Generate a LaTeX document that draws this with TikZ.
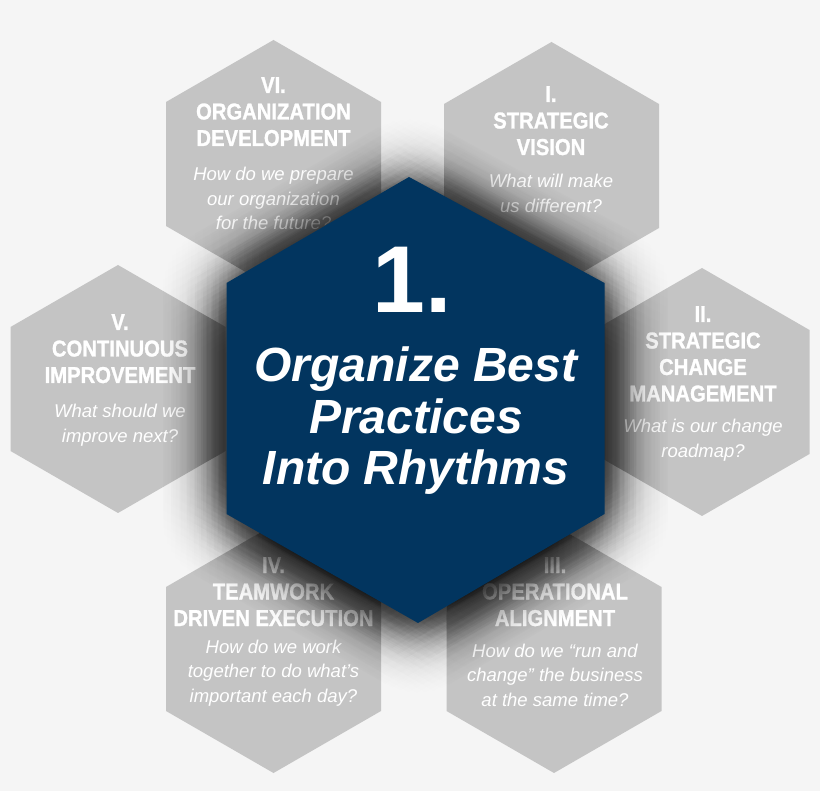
\documentclass[tikz,border=0pt]{standalone}
\usepackage{fontspec}
\setmainfont{Liberation Sans}
\newfontfamily\ttlfont[FakeStretch=0.88, FakeBold=1.2]{Liberation Sans Bold}
\definecolor{bgc}{RGB}{245,245,245}
\definecolor{hexgray}{RGB}{196,196,196}
\definecolor{navy}{RGB}{2,53,95}
\newcommand\hexat[2]{(#1,#2-124) -- (#1+107.5,#2-62) -- (#1+107.5,#2+62) -- (#1,#2+124) -- (#1-107.5,#2+62) -- (#1-107.5,#2-62) -- cycle}
\newcommand\centerhex{(409,177) -- (604.5,283) -- (604.5,514) -- (418,623) -- (226.5,514) -- (226.5,283) -- cycle}
\newcommand\lines[1]{\begin{tabular}[t]{@{}c@{}}#1\end{tabular}}
\tikzset{
  outerhex/.style={fill=hexgray},
  ttl/.style={anchor=base, inner sep=0pt, text=white, font=\ttlfont\fontsize{23}{26.5}\selectfont},
  qst/.style={anchor=base, inner sep=0pt, text=white, font=\itshape\fontsize{18.5}{24.5}\selectfont},
  blurcopy/.style={fill=black, opacity=#1},
}
\begin{document}
\begin{tikzpicture}[x=1pt,y=-1pt]
\useasboundingbox (0,0) rectangle (820,791);
\fill[bgc] (0,0) rectangle (820,791);
% outer hexagons
\fill[outerhex] \hexat{273.5}{164};
\fill[outerhex] \hexat{551.5}{166};
\fill[outerhex] \hexat{702}{392};
\fill[outerhex] \hexat{554}{649};
\fill[outerhex] \hexat{273.5}{649};
\fill[outerhex] \hexat{118}{389};
% texts
\node[ttl] (t6) at (273.5,93) {\lines{VI.\\ORGANIZATION\\DEVELOPMENT}};
\node[qst] (q6) at (273.5,181) {\lines{How do we prepare\\our organization\\for the future?}};
\node[ttl] (t1) at (551,102) {\lines{I.\\STRATEGIC\\VISION}};
\node[qst] (q1) at (551,188) {\lines{What will make\\us different?}};
\node[ttl] (t2) at (703,322) {\lines{II.\\STRATEGIC\\CHANGE\\MANAGEMENT}};
\node[qst] (q2) at (703,433) {\lines{What is our change\\roadmap?}};
\node[ttl] (t3) at (555,573) {\lines{III.\\OPERATIONAL\\ALIGNMENT}};
\node[qst] (q3) at (555,657) {\lines{How do we “run and\\change” the business\\at the same time?}};
\node[ttl] (t4) at (273.5,573) {\lines{IV.\\TEAMWORK\\DRIVEN EXECUTION}};
\node[qst] (q4) at (273.5,653) {\lines{How do we work\\together to do what’s\\important each day?}};
\node[ttl] (t5) at (120,330) {\lines{V.\\CONTINUOUS\\IMPROVEMENT}};
\node[qst] (q5) at (120,418) {\lines{What should we\\improve next?}};
% soft (gaussian-like) shadow of the central hexagon
\fill[blurcopy=0.0171, shift={(0,6)}] \centerhex;
\foreach \j/\nring/\al in {1/6/0.0166, 2/12/0.0151, 3/18/0.0129, 4/24/0.0104, 5/30/0.00784, 6/36/0.00556, 7/42/0.0037, 8/48/0.00232, 9/54/0.00136, 10/60/0.00076} {
  \foreach \k in {1,...,\nring} {
    \pgfmathsetmacro\dx{8*\j*cos(360/\nring*\k+17*\j)}
    \pgfmathsetmacro\dy{8*\j*sin(360/\nring*\k+17*\j)+6}
    \fill[blurcopy=\al, shift={(\dx,\dy)}] \centerhex;
  }
}
% central hexagon
\fill[navy] \centerhex;
\node[anchor=base, inner sep=0pt, text=white, font=\bfseries\fontsize{95}{95}\selectfont] (num) at (412,313) {1.};
\node[anchor=base, inner sep=0pt, text=white, font=\bfseries\itshape\fontsize{48}{51.5}\selectfont] (main) at (416,382) {\lines{Organize Best\\Practices\\Into Rhythms}};
\end{tikzpicture}
\end{document}
